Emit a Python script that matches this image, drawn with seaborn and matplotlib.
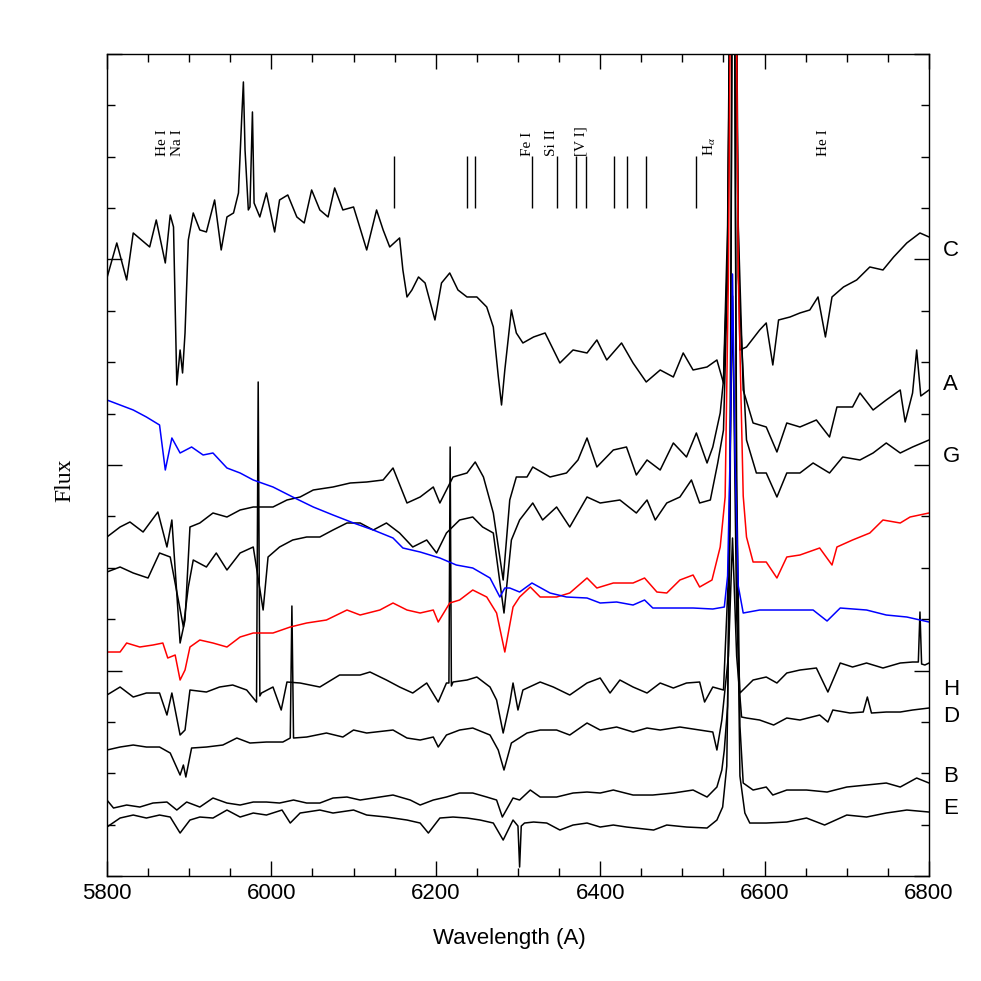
import matplotlib
matplotlib.use("Agg")
import matplotlib.pyplot as plt
import matplotlib.transforms as mtransforms
from matplotlib.ticker import MultipleLocator, NullFormatter
import numpy as np
import pandas as pd
import seaborn as sns

sns.set_style("ticks")
plt.rcParams['font.family'] = ['Liberation Sans', 'DejaVu Sans']
plt.rcParams['mathtext.fontset'] = 'stix'
plt.rcParams['text.color'] = 'black'
plt.rcParams['axes.labelcolor'] = 'black'
plt.rcParams['axes.edgecolor'] = 'black'
plt.rcParams['xtick.color'] = 'black'
plt.rcParams['ytick.color'] = 'black'

# spectra: wavelength (A) and flux (arbitrary units, offset per star)
wl_C = [5800, 5812, 5824, 5832, 5852, 5860, 5871, 5877, 5881, 5885, 5889, 5892, 5895, 5899, 5905, 5913, 5921, 5931, 5939, 5946,
        5954, 5960, 5964, 5966, 5968, 5972, 5974, 5977, 5979, 5986, 5994, 6004, 6010, 6020, 6031, 6040, 6049, 6059, 6069, 6077,
        6087, 6100, 6106, 6116, 6128, 6136, 6144, 6156, 6160, 6165, 6171, 6179, 6187, 6199, 6207, 6217, 6227, 6238, 6250, 6262,
        6270, 6276, 6280, 6284, 6288, 6292, 6298, 6306, 6319, 6333, 6351, 6367, 6384, 6396, 6408, 6426, 6440, 6456, 6473, 6489,
        6501, 6513, 6530, 6542, 6550, 6555, 6562, 6567, 6570, 6578, 6594, 6602, 6610, 6617, 6631, 6643, 6655, 6665, 6674, 6682,
        6696, 6712, 6728, 6744, 6757, 6773, 6789, 6800]
fx_C = [598, 633, 596, 643, 629, 656, 613, 661, 649, 491, 526, 503, 543, 636, 663, 646, 644, 676, 626, 659,
        663, 683, 759, 794, 726, 666, 669, 764, 673, 659, 683, 644, 676, 681, 659, 653, 686, 666, 659, 688,
        666, 669, 653, 626, 666, 646, 629, 638, 606, 579, 586, 599, 593, 556, 593, 603, 586, 579, 579, 569,
        549, 500, 471, 506, 536, 566, 543, 533, 539, 543, 513, 526, 523, 536, 516, 533, 513, 494, 506, 499,
        523, 506, 509, 516, 493, 620, 1300, 700, 526, 529, 546, 553, 511, 556, 559, 563, 566, 579, 539, 579,
        589, 596, 609, 606, 619, 633, 643, 639]

wl_A = [5800, 5816, 5828, 5844, 5862, 5873, 5879, 5889, 5895, 5901, 5913, 5929, 5946, 5962, 5978, 6002, 6019, 6035, 6051, 6075,
        6096, 6116, 6136, 6148, 6165, 6181, 6197, 6205, 6221, 6238, 6248, 6258, 6270, 6282, 6290, 6298, 6311, 6318, 6339, 6359,
        6373, 6384, 6396, 6416, 6432, 6444, 6457, 6473, 6489, 6505, 6517, 6530, 6537, 6546, 6550, 6555, 6562, 6568, 6574, 6586,
        6602, 6615, 6627, 6643, 6663, 6679, 6688, 6707, 6716, 6732, 6748, 6765, 6771, 6780, 6785, 6790, 6800]
fx_A = [339, 349, 354, 344, 364, 329, 356, 233, 256, 349, 353, 363, 359, 366, 369, 369, 376, 379, 386, 389,
        393, 394, 396, 408, 373, 379, 389, 373, 399, 403, 414, 399, 363, 296, 376, 399, 399, 409, 399, 403,
        416, 438, 409, 426, 429, 401, 416, 406, 433, 419, 443, 413, 429, 463, 496, 650, 1300, 650, 486, 453,
        449, 424, 453, 449, 456, 439, 469, 469, 483, 466, 476, 486, 454, 483, 526, 480, 486]

wl_G = [5800, 5816, 5832, 5850, 5864, 5877, 5893, 5899, 5905, 5921, 5933, 5946, 5962, 5978, 5990, 5996, 6010, 6026, 6043, 6059,
        6075, 6092, 6108, 6124, 6140, 6156, 6172, 6189, 6201, 6213, 6229, 6245, 6257, 6270, 6283, 6292, 6302, 6318, 6330, 6347,
        6363, 6384, 6400, 6424, 6444, 6457, 6467, 6481, 6497, 6511, 6521, 6534, 6543, 6550, 6555, 6562, 6568, 6578, 6590, 6602,
        6615, 6627, 6643, 6659, 6679, 6695, 6716, 6732, 6748, 6765, 6780, 6800]
fx_G = [304, 309, 303, 298, 323, 319, 249, 289, 316, 309, 323, 306, 323, 329, 266, 319, 329, 336, 339, 339,
        346, 353, 353, 346, 353, 343, 329, 336, 323, 343, 356, 359, 349, 343, 263, 336, 356, 373, 356, 369,
        349, 379, 373, 376, 363, 376, 356, 373, 379, 396, 373, 376, 413, 446, 600, 1300, 600, 436, 403, 403,
        379, 403, 403, 413, 403, 419, 416, 423, 433, 423, 429, 436]

wl_blue = [5800, 5816, 5832, 5848, 5864, 5871, 5879, 5889, 5903, 5917, 5929, 5946, 5962, 5978, 6002, 6026, 6051, 6075, 6100, 6124,
           6148, 6160, 6181, 6205, 6225, 6245, 6266, 6278, 6284, 6290, 6302, 6317, 6339, 6359, 6384, 6400, 6420, 6440, 6454, 6464,
           6489, 6513, 6537, 6551, 6555, 6558, 6561, 6564, 6568, 6574, 6594, 6627, 6659, 6676, 6692, 6724, 6748, 6773, 6800]
fx_blue = [476, 471, 466, 459, 451, 406, 438, 423, 429, 421, 423, 408, 403, 396, 389, 379, 369, 361, 353, 346,
           338, 328, 324, 318, 311, 308, 298, 279, 288, 288, 284, 293, 283, 279, 278, 273, 274, 271, 276, 268,
           268, 268, 267, 269, 300, 420, 602, 420, 290, 263, 266, 266, 266, 255, 268, 266, 261, 259, 254]

wl_red = [5800, 5816, 5824, 5840, 5856, 5868, 5874, 5883, 5889, 5895, 5901, 5913, 5929, 5946, 5962, 5978, 6002, 6023, 6043, 6067,
          6092, 6108, 6132, 6148, 6165, 6181, 6197, 6203, 6217, 6229, 6245, 6262, 6274, 6284, 6294, 6302, 6315, 6327, 6347, 6363,
          6384, 6396, 6416, 6440, 6454, 6469, 6481, 6497, 6513, 6521, 6536, 6546, 6552, 6556, 6562, 6568, 6574, 6578, 6586, 6602,
          6615, 6627, 6643, 6667, 6682, 6688, 6707, 6728, 6744, 6765, 6777, 6800]
fx_red = [224, 224, 233, 229, 231, 233, 218, 221, 196, 206, 229, 236, 233, 229, 239, 243, 243, 249, 253, 256,
          266, 261, 266, 273, 266, 263, 266, 254, 273, 276, 286, 279, 263, 224, 269, 279, 289, 279, 279, 283,
          298, 288, 293, 293, 298, 284, 283, 296, 301, 289, 296, 329, 379, 600, 1300, 600, 380, 339, 314, 314,
          298, 319, 321, 328, 311, 329, 336, 343, 356, 353, 359, 363]

wl_H = [5800, 5816, 5832, 5848, 5864, 5873, 5879, 5889, 5895, 5901, 5921, 5937, 5953, 5970, 5982, 5984, 5986, 5988, 6002, 6012,
        6019, 6035, 6059, 6083, 6108, 6120, 6140, 6156, 6172, 6189, 6203, 6213, 6216, 6217.5, 6219, 6221, 6238, 6250, 6266, 6274,
        6282, 6290, 6294, 6300, 6306, 6327, 6343, 6363, 6384, 6400, 6412, 6424, 6440, 6457, 6473, 6489, 6505, 6521, 6527, 6537,
        6550, 6556, 6561, 6566, 6570, 6586, 6602, 6615, 6627, 6643, 6663, 6677, 6692, 6707, 6724, 6744, 6765, 6780, 6787, 6789,
        6791, 6795, 6800]
fx_H = [181, 189, 179, 183, 183, 161, 183, 141, 146, 186, 184, 189, 191, 186, 174, 494, 180, 183, 189, 166,
        194, 193, 189, 201, 201, 204, 196, 189, 183, 193, 174, 193, 193, 429, 190, 194, 196, 199, 189, 176,
        143, 173, 193, 166, 186, 194, 189, 181, 193, 198, 183, 196, 189, 183, 193, 188, 193, 194, 174, 189,
        186, 300, 580, 260, 183, 196, 199, 193, 203, 206, 208, 184, 213, 209, 213, 208, 213, 214, 214, 264,
        212, 211, 213]

wl_D = [5800, 5816, 5832, 5848, 5864, 5877, 5889, 5893, 5896, 5903, 5921, 5941, 5958, 5974, 5994, 6014, 6023, 6025, 6027, 6043,
        6067, 6087, 6100, 6116, 6148, 6165, 6181, 6197, 6203, 6213, 6229, 6245, 6266, 6276, 6283, 6292, 6311, 6327, 6347, 6363,
        6384, 6400, 6420, 6440, 6457, 6473, 6497, 6521, 6537, 6542, 6548, 6556, 6561, 6566, 6572, 6578, 6594, 6611, 6627, 6643,
        6667, 6677, 6683, 6704, 6720, 6725, 6730, 6748, 6765, 6780, 6800]
fx_D = [126, 129, 131, 129, 129, 123, 101, 111, 99, 128, 129, 131, 138, 133, 134, 134, 138, 270, 138, 139,
        143, 139, 146, 143, 146, 138, 136, 139, 129, 141, 146, 148, 141, 126, 106, 133, 143, 146, 146, 141,
        153, 146, 149, 144, 148, 146, 149, 146, 144, 126, 156, 220, 338, 220, 159, 158, 156, 151, 158, 156,
        161, 154, 166, 163, 164, 179, 163, 164, 164, 166, 168]

wl_B = [5800, 5808, 5824, 5840, 5856, 5873, 5885, 5897, 5913, 5929, 5946, 5962, 5978, 5994, 6010, 6027, 6043, 6059, 6075, 6092,
        6108, 6132, 6148, 6169, 6181, 6197, 6213, 6229, 6245, 6262, 6274, 6281, 6294, 6302, 6315, 6327, 6347, 6367, 6384, 6400,
        6416, 6440, 6464, 6489, 6513, 6530, 6542, 6548, 6551, 6555, 6558, 6562, 6566, 6570, 6574, 6586, 6602, 6610, 6627, 6651,
        6676, 6700, 6724, 6748, 6765, 6785, 6800]
fx_B = [76, 68, 71, 69, 73, 74, 66, 74, 69, 78, 73, 71, 74, 74, 73, 76, 73, 73, 78, 79,
        76, 79, 81, 76, 71, 76, 79, 83, 83, 79, 76, 59, 78, 76, 86, 79, 79, 83, 84, 83,
        86, 81, 81, 83, 86, 79, 89, 106, 126, 170, 400, 1200, 400, 150, 93, 86, 89, 81, 86, 86,
        84, 89, 91, 93, 89, 98, 93]

wl_E = [5800, 5816, 5832, 5848, 5864, 5877, 5889, 5901, 5913, 5929, 5946, 5962, 5978, 5994, 6013, 6023, 6035, 6059, 6075, 6100,
        6116, 6140, 6165, 6181, 6191, 6205, 6221, 6238, 6254, 6270, 6282, 6294, 6300, 6302, 6304, 6308, 6319, 6335, 6351, 6367,
        6384, 6400, 6416, 6432, 6465, 6481, 6505, 6530, 6542, 6549, 6554, 6558, 6562, 6566, 6570, 6576, 6582, 6602, 6627, 6651,
        6673, 6700, 6724, 6748, 6773, 6800]
fx_E = [49, 58, 61, 58, 61, 59, 43, 56, 59, 58, 66, 59, 63, 61, 66, 53, 63, 66, 63, 66,
        61, 59, 56, 53, 43, 58, 59, 58, 56, 53, 36, 56, 50, 9, 50, 53, 54, 53, 46, 51,
        53, 49, 51, 49, 46, 51, 49, 48, 56, 69, 110, 350, 1200, 350, 100, 63, 53, 53, 54, 58,
        51, 61, 59, 63, 66, 64]

# identification marks at the top
mark_wl = [6149, 6238, 6248, 6317, 6347, 6371, 6383, 6417, 6433, 6456, 6516]
ident_text = ['He I', 'Na I', 'Fe I', 'Si II', '[V I]', r'H$_\alpha$', 'He I']
ident_wl = [5868, 5886, 6311, 6341, 6377, 6534, 6672]

# star names on the right
star_names = ['C', 'A', 'G', 'H', 'D', 'B', 'E']
star_label_y = [625, 491, 419, 187, 160, 100, 68]

spectra = {'C': (wl_C, fx_C), 'A': (wl_A, fx_A), 'G': (wl_G, fx_G), 'H': (wl_H, fx_H),
           'D': (wl_D, fx_D), 'B': (wl_B, fx_B), 'E': (wl_E, fx_E),
           'red': (wl_red, fx_red), 'blue': (wl_blue, fx_blue)}
frames = []
for name, (wl, fx) in spectra.items():
    frames.append(pd.DataFrame({'wavelength': wl, 'flux': fx, 'star': name}))
df = pd.concat(frames, ignore_index=True)

order = ['C', 'A', 'G', 'H', 'D', 'B', 'E', 'red', 'blue']
palette = {n: 'black' for n in order}
palette['red'] = '#ff0000'
palette['blue'] = '#0000ff'

fig, ax = plt.subplots(figsize=(9.81, 9.81), dpi=100)
fig.subplots_adjust(left=0.109, right=0.947, bottom=0.107, top=0.945)

sns.lineplot(data=df, x='wavelength', y='flux', hue='star', hue_order=order,
             palette=palette, estimator=None, sort=False, lw=1.1, legend=False, ax=ax)

ax.set_xlim(5800, 6800)
ax.set_ylim(0, 822)

# line identifications
ax.vlines(mark_wl, 668, 720, color='black', lw=1)
for txt, w in zip(ident_text, ident_wl):
    ax.text(w, 720, txt, rotation=90, ha='center', va='bottom',
            family=['Liberation Serif', 'DejaVu Serif'], fontsize=11)

trans = mtransforms.blended_transform_factory(ax.transAxes, ax.transData)
for name, y in zip(star_names, star_label_y):
    ax.text(1.017, y, name, transform=trans, ha='left', va='center', fontsize=16)

ax.xaxis.set_major_locator(MultipleLocator(200))
ax.xaxis.set_minor_locator(MultipleLocator(50))
ax.yaxis.set_major_locator(MultipleLocator(205.5))
ax.yaxis.set_minor_locator(MultipleLocator(51.375))
ax.yaxis.set_major_formatter(NullFormatter())
ax.tick_params(which='both', direction='in', top=True, right=True, width=1, labelsize=16)
ax.tick_params(which='major', length=10.8, pad=5)
ax.tick_params(which='minor', length=5.8)
for sp in ax.spines.values():
    sp.set_linewidth(1)

ax.set_xlabel('Wavelength (A)', fontsize=16)
ax.set_ylabel('Flux', family=['Liberation Serif', 'DejaVu Serif'], fontsize=17)
ax.xaxis.set_label_coords(0.49, -0.063)
ax.yaxis.set_label_coords(-0.038, 0.482)

fig.savefig('out.png', dpi=100)
